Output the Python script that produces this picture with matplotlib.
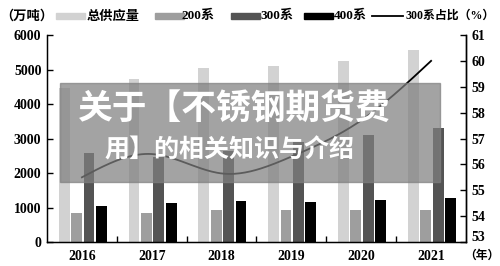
import numpy as np
import matplotlib
matplotlib.use("Agg")
import matplotlib.pyplot as plt
import matplotlib.transforms as mtransforms
from matplotlib.patches import Rectangle
from matplotlib.lines import Line2D

years = ["2016", "2017", "2018", "2019", "2020", "2021"]
total_supply = [4450, 4720, 5040, 5090, 5250, 5560]
s200 = [840, 850, 930, 930, 930, 930]
s300 = [2580, 2450, 2650, 2900, 3100, 3300]
s400 = [1050, 1120, 1190, 1170, 1220, 1270]
share300 = [55.5, 56.4, 55.65, 56.3, 57.7, 60.0]

series_names = ["总供应量", "200系", "300系", "400系"]
line_name = "300系占比（%）"
colors = ["#d2d2d2", "#9e9e9e", "#545454", "#000000"]

num_font = ["Liberation Serif", "Noto Sans CJK SC"]
cjk_font = ["Noto Sans CJK SC", "DejaVu Sans"]

fig = plt.figure(figsize=(5.0, 2.66), dpi=100)
ax = fig.add_axes([0.094, 0.0902, 0.838, 0.7782])
ax2 = ax.twinx()

x = np.arange(len(years))
step = 0.178
width = 0.155
all_series = [total_supply, s200, s300, s400]
for i, vals in enumerate(all_series):
    off = (i - 1.5) * step + 0.012
    ax.bar(x + off, vals, width=width, color=colors[i], zorder=2)

ax.set_xlim(-0.5, 5.5)
ax.set_ylim(0, 6000)
ax.set_yticks(np.arange(0, 6001, 1000))
ax.set_xticks(x)
ax.set_xticklabels(years)
ax.set_xticks(np.arange(0.5, 5.0, 1.0), minor=True)
ax.tick_params(axis="x", which="major", length=0, pad=6)
ax.tick_params(axis="x", which="minor", direction="in", length=4, width=1)
ax.tick_params(axis="y", direction="in", length=4, width=1, pad=4)
for lab in ax.get_xticklabels() + ax.get_yticklabels():
    lab.set_fontfamily(num_font)
    lab.set_fontweight("bold")
    lab.set_fontsize(10)
ax.spines["top"].set_visible(False)
for s in ["left", "bottom", "right"]:
    ax.spines[s].set_linewidth(1.0)

# smooth line via natural cubic spline through the data points
def natural_spline(xs, ys, n=200):
    xs = np.asarray(xs, float); ys = np.asarray(ys, float)
    k = len(xs)
    h = np.diff(xs)
    A = np.zeros((k, k)); b = np.zeros(k)
    A[0, 0] = 1; A[-1, -1] = 1
    for i in range(1, k - 1):
        A[i, i - 1] = h[i - 1]; A[i, i] = 2 * (h[i - 1] + h[i]); A[i, i + 1] = h[i]
        b[i] = 3 * ((ys[i + 1] - ys[i]) / h[i] - (ys[i] - ys[i - 1]) / h[i - 1])
    c = np.linalg.solve(A, b)
    xx = np.linspace(xs[0], xs[-1], n)
    yy = np.empty_like(xx)
    for j, xv in enumerate(xx):
        i = min(np.searchsorted(xs, xv, side="right") - 1, k - 2)
        dx = xv - xs[i]
        bi = (ys[i + 1] - ys[i]) / h[i] - h[i] * (2 * c[i] + c[i + 1]) / 3
        di = (c[i + 1] - c[i]) / (3 * h[i])
        yy[j] = ys[i] + bi * dx + c[i] * dx ** 2 + di * dx ** 3
    return xx, yy

xx, yy = natural_spline(x, share300)
ax2.plot(xx, yy, color="black", lw=1.3, zorder=5)
ax2.set_ylim(53, 61)
ax2.set_yticks(np.arange(53, 62, 1))
ax2.tick_params(axis="y", direction="in", length=4, width=1, pad=4)
labs2 = ax2.get_yticklabels()
for lab in labs2:
    lab.set_fontfamily(num_font)
    lab.set_fontweight("bold")
    lab.set_fontsize(10)
# lift the lowest right label a little, as in the reference
shift = mtransforms.ScaledTranslation(0, 6 / 100, fig.dpi_scale_trans)
for t in ax2.yaxis.get_major_ticks()[:1]:
    t.label2.set_transform(t.label2.get_transform() + shift)
ax2.spines["top"].set_visible(False)
ax2.spines["right"].set_linewidth(1.0)

# unit labels
fig.text(0.0, 1 - 16 / 266, "（万吨）", fontfamily=cjk_font, fontsize=9.5,
         fontweight="bold", va="center", ha="left")
fig.text(0.998, 1 - 255 / 266, "（年）", fontfamily=cjk_font, fontsize=8.5,
         fontweight="bold", va="center", ha="right")

# legend (manual)
leg_y = 1 - 16 / 266
patch_x = [56, 155, 231, 304]
text_x = [87, 182, 260, 334]
for px, tx, col, name in zip(patch_x, text_x, colors, series_names):
    fig.patches.append(Rectangle((px / 500, leg_y - 2.5 / 266), 29 / 500, 5 / 266,
                                 transform=fig.transFigure, color=col))
    fig.text(tx / 500, leg_y, name, fontfamily=num_font if name[0].isdigit() else cjk_font,
             fontsize=9.5, fontweight="bold", va="center", ha="left")
fig.lines.append(Line2D([372 / 500, 403 / 500], [leg_y, leg_y], transform=fig.transFigure,
                        color="black", lw=1.3))
fig.text(405 / 500, leg_y, line_name, fontfamily=num_font, fontsize=8.6,
         fontweight="bold", va="center", ha="left")

# overlay banner
fig.patches.append(Rectangle((60 / 500, 1 - 182 / 266), 380 / 500, 99 / 266,
                             transform=fig.transFigure, color="#808080", alpha=0.72, zorder=10))
fig.text(78 / 500, 1 - 108 / 266, "关于【不锈钢期货费", fontfamily=cjk_font, fontsize=25,
         fontweight="bold", color="white", va="center", ha="left", zorder=11)
fig.text(104 / 500, 1 - 150 / 266, "用】的相关知识与介绍", fontfamily=cjk_font, fontsize=18,
         fontweight="heavy", color="white", va="center", ha="left", zorder=11)

fig.savefig("out.png", dpi=100)
